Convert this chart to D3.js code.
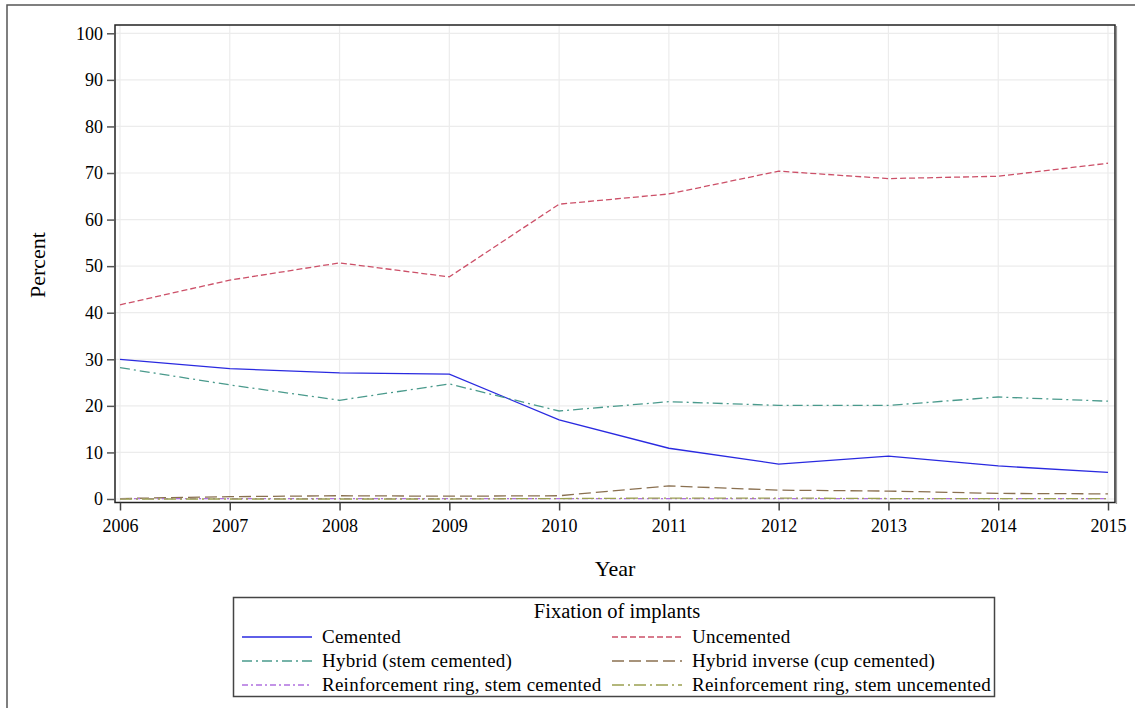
<!DOCTYPE html>
<html>
<head>
<meta charset="utf-8">
<script src="https://cdn.jsdelivr.net/npm/d3@7"></script>
<style>
  html, body { margin: 0; padding: 0; background: #fff; }
  svg { display: block; }
  text { font-family: "Liberation Serif", "Times New Roman", serif; fill: #000; }
</style>
</head>
<body>
<svg id="chart" width="1135" height="708"></svg>
<script>
// Share of hip implants by fixation type, per year (percent)
const years = [2006, 2007, 2008, 2009, 2010, 2011, 2012, 2013, 2014, 2015];
const yTicks = [0, 10, 20, 30, 40, 50, 60, 70, 80, 90, 100];

const cemented        = [30.0, 28.0, 27.1, 26.8, 17.0, 10.9, 7.5, 9.2, 7.1, 5.7];
const uncemented      = [41.7, 47.0, 50.7, 47.7, 63.3, 65.5, 70.4, 68.8, 69.3, 72.1];
const hybrid          = [28.2, 24.5, 21.2, 24.7, 18.9, 20.9, 20.1, 20.1, 21.9, 21.0];
const hybridInverse   = [0.1, 0.5, 0.7, 0.6, 0.7, 2.8, 1.9, 1.7, 1.2, 1.1];
const ringCemented    = [0.1, 0.1, 0.1, 0.1, 0.1, 0.1, 0.1, 0.1, 0.1, 0.1];
const ringUncemented  = [0.0, 0.0, 0.0, 0.0, 0.1, 0.2, 0.2, 0.1, 0.1, 0.1];

const seriesNames = [
  "Cemented", "Uncemented",
  "Hybrid (stem cemented)", "Hybrid inverse (cup cemented)",
  "Reinforcement ring, stem cemented", "Reinforcement ring, stem uncemented"
];
const seriesValues = [cemented, uncemented, hybrid, hybridInverse, ringCemented, ringUncemented];
const seriesColors = ["#2a2ae0", "#cc5068", "#4a9a8c", "#8a7050", "#b070e0", "#9ba050"];
const seriesDashes = [null, "6,3", "10,4,2,4", "12,5", "6,3,2,3", "12,4,2,4"];

const svg = d3.select("#chart");

// outer border
svg.append("rect")
  .attr("x", 7).attr("y", 5).attr("width", 1140).attr("height", 720)
  .attr("fill", "none").attr("stroke", "#555").attr("stroke-width", 1.5);

const plot = { left: 115, top: 25, right: 1115, bottom: 502.5 };

const x = d3.scaleLinear().domain([2006, 2015]).range([120, 1108]);
const y = d3.scaleLinear().domain([0, 100]).range([499, 33.3]);

const g = svg.append("g");

// grid lines
g.append("g").selectAll("line.hg").data(yTicks).join("line")
  .attr("x1", plot.left).attr("x2", plot.right)
  .attr("y1", d => y(d)).attr("y2", d => y(d))
  .attr("stroke", "#ececec").attr("stroke-width", 1.2);
g.append("g").selectAll("line.vg").data(years).join("line")
  .attr("y1", plot.top).attr("y2", plot.bottom)
  .attr("x1", d => x(d)).attr("x2", d => x(d))
  .attr("stroke", "#ececec").attr("stroke-width", 1.2);

// series lines
const line = d3.line().x((d, i) => x(years[i])).y(d => y(d));
seriesValues.forEach((vals, k) => {
  g.append("path")
    .datum(vals)
    .attr("d", line)
    .attr("fill", "none")
    .attr("stroke", seriesColors[k])
    .attr("stroke-width", 1.3)
    .attr("stroke-dasharray", seriesDashes[k]);
});

// plot frame
svg.append("rect")
  .attr("x", plot.left).attr("y", plot.top)
  .attr("width", plot.right - plot.left).attr("height", plot.bottom - plot.top)
  .attr("fill", "none").attr("stroke", "#222").attr("stroke-width", 1.5);
svg.append("line")
  .attr("x1", plot.right + 1.5).attr("x2", plot.right + 1.5)
  .attr("y1", plot.top + 1).attr("y2", plot.bottom + 1.5)
  .attr("stroke", "#999").attr("stroke-width", 1.2);

// y axis
const yAxis = d3.axisLeft(y).tickValues(yTicks).tickSize(8).tickPadding(4);
const ya = svg.append("g").attr("transform", `translate(${plot.left},0)`).call(yAxis);
ya.select(".domain").remove();
ya.selectAll(".tick line").attr("stroke", "#555").attr("stroke-width", 1.5);
ya.selectAll(".tick text").attr("font-size", 18).attr("font-family", "Liberation Serif").attr("fill", "#000");

// x axis
const xAxis = d3.axisBottom(x).tickValues(years).tickFormat(d3.format("d")).tickSize(8).tickPadding(9);
const xa = svg.append("g").attr("transform", `translate(0,${plot.bottom})`).call(xAxis);
xa.select(".domain").remove();
xa.selectAll(".tick line").attr("stroke", "#444").attr("stroke-width", 1.5);
xa.selectAll(".tick text").attr("font-size", 18).attr("font-family", "Liberation Serif").attr("fill", "#000");

// axis titles
svg.append("text").attr("x", 615).attr("y", 576).attr("text-anchor", "middle")
  .attr("font-size", 22).text("Year");
svg.append("text").attr("transform", "translate(45,265) rotate(-90)").attr("text-anchor", "middle")
  .attr("font-size", 22).text("Percent");

// legend
const lg = svg.append("g");
lg.append("rect").attr("x", 233.5).attr("y", 597.5).attr("width", 761).attr("height", 99)
  .attr("fill", "none").attr("stroke", "#444").attr("stroke-width", 1.5);
lg.append("text").attr("x", 617).attr("y", 618).attr("text-anchor", "middle")
  .attr("font-size", 20.5).text("Fixation of implants");

const colX = [242, 612];
const rowY = [637, 661, 685];
seriesNames.forEach((name, k) => {
  const cx = colX[k % 2];
  const cy = rowY[Math.floor(k / 2)];
  lg.append("line")
    .attr("x1", cx).attr("x2", cx + 70)
    .attr("y1", cy).attr("y2", cy)
    .attr("stroke", seriesColors[k]).attr("stroke-width", 1.3)
    .attr("stroke-dasharray", seriesDashes[k]);
  lg.append("text").attr("x", cx + 80).attr("y", cy + 6)
    .attr("font-size", 19).attr("letter-spacing", 0.25).text(name);
});
</script>
</body>
</html>
